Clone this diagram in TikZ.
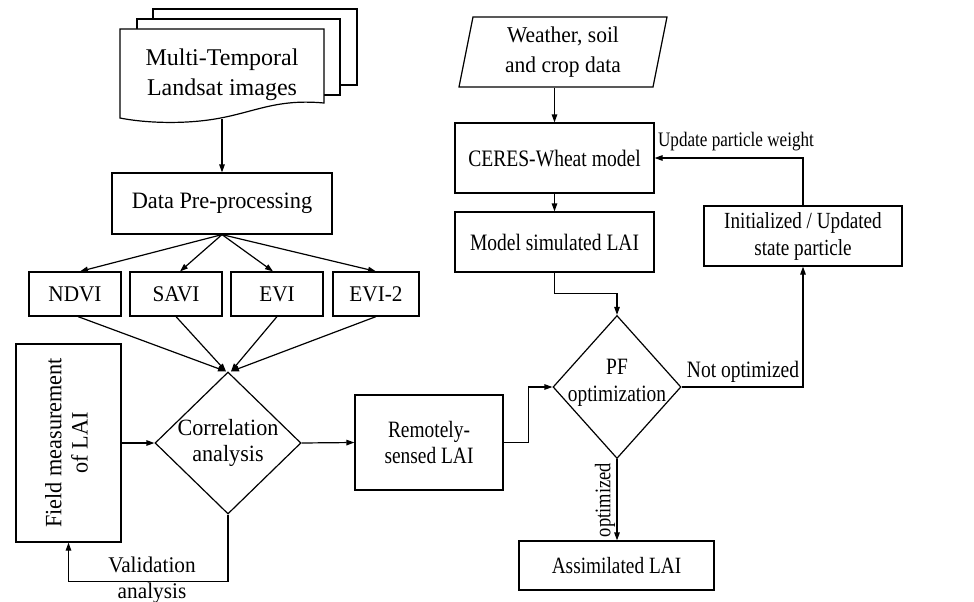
\documentclass[tikz,border=0pt]{standalone}
\usepackage{fontspec}
\setmainfont{Liberation Serif}
\newfontfamily\narrowf[FakeStretch=0.83]{Liberation Serif}
\newfontfamily\semif[FakeStretch=0.95]{Liberation Serif}
\usepackage{graphicx}
\usetikzlibrary{shapes.geometric,arrows.meta}
\newcommand{\fsn}[2]{\narrowf\fontsize{#1}{#2}\selectfont}
\newcommand{\fss}[2]{\semif\fontsize{#1}{#2}\selectfont}
\newcommand{\fsm}[2]{\fontsize{#1}{#2}\selectfont}
\begin{document}
\begin{tikzpicture}[x=1pt,y=-1pt,
  line width=1.2pt,
  arr/.style={-{Triangle[length=8pt,width=5.5pt]}},
  box/.style={draw, rectangle, inner sep=0pt, align=center},
  dia/.style={draw, diamond, inner sep=0pt},
  lab/.style={inner sep=0pt, align=center}]
\useasboundingbox (0,0) rectangle (974,602);
% document stack
\draw[fill=white] (153,9) rectangle (357,85);
\draw[fill=white] (137,19) rectangle (340,95);
\draw[fill=white] (120,29) -- (324,29) -- (324,103)
  .. controls (270,98) and (250,116) .. (200,121)
  .. controls (170,124) and (140,122) .. (120,118) -- cycle;
\node[lab, font=\fsm{24}{30}] (doc) at (222,75) {Multi-Temporal\\Landsat images};
\coordinate (docb) at (222,119);
% left column
\node[box, minimum width=220pt, minimum height=61pt, font=\fss{23.5}{26}] (pre) at (222,203.5) {Data Pre-processing};
\node[box, minimum width=92pt, minimum height=44pt, font=\fss{22.4}{26}] (ndvi) at (75,294) {NDVI};
\node[box, minimum width=92pt, minimum height=44pt, font=\fss{22.4}{26}] (savi) at (176,294) {SAVI};
\node[box, minimum width=92pt, minimum height=44pt, font=\fss{22.4}{26}] (evi) at (277,294) {EVI};
\node[box, minimum width=86pt, minimum height=44pt, font=\fss{22.4}{26}] (evib) at (376,294) {EVI-2};
\node[dia, minimum width=146pt, minimum height=142pt] (corr) at (228,443) {};
\node[lab, font=\fss{23.3}{26}] (corrt) at (corr.center) {Correlation\\analysis};
\node[box, minimum width=105pt, minimum height=198pt, font=\fss{23.4}{30}] (field) at (68.5,443)
  {\rotatebox{90}{\begin{tabular}{@{}c@{}}Field measurement\\[-4pt]of LAI\end{tabular}}};
\node[lab, font=\fss{22.4}{26}] (vlab) at (152,580) {Validation\\analysis};
\node[box, minimum width=148pt, minimum height=95pt, font=\fsn{23.4}{26}] (remote) at (429,442.5) {Remotely-\\sensed LAI};
% right part
\draw (473,17) -- (667,17) -- (653,87) -- (459,87) -- cycle;
\node[lab, minimum width=194pt, minimum height=70pt, font=\fss{22.6}{30}] (weather) at (563,52) {Weather, soil\\and crop data};
\node[box, minimum width=199pt, minimum height=70pt, font=\fsn{23.6}{26}] (ceres) at (554.5,158) {CERES-Wheat model};
\node[box, minimum width=199pt, minimum height=60pt, font=\fsn{23.5}{26}] (model) at (554.5,242) {Model simulated LAI};
\node[dia, minimum width=128pt, minimum height=143pt] (pf) at (617,387) {};
\node[lab, font=\fsn{23.4}{27}] (pft) at (617,383) {PF\\optimization};
\node[box, minimum width=195pt, minimum height=49pt, font=\fsn{23.3}{26}] (assim) at (616.5,565.5) {Assimilated LAI};
\node[box, minimum width=198pt, minimum height=60pt, font=\fsn{23.1}{27}] (init) at (803,236) {Initialized / Updated\\state particle};
\node[lab, font=\fsn{20.6}{22}] (uplab) at (736,142) {Update particle weight};
\node[lab, font=\fsn{23.5}{24}] (nolab) at (743,372) {Not optimized};
\node[lab, rotate=90, font=\fsn{22.3}{24}] (oplab) at (605,500) {optimized};
% connectors
\draw[arr] (docb) -- (pre.north);
\draw[arr] (pre.south) -- ([xshift=5pt]ndvi.north);
\draw[arr] (pre.south) -- ([xshift=4pt]savi.north);
\draw[arr] (pre.south) -- ([xshift=-4pt]evi.north);
\draw[arr] (pre.south) -- (evib.north);
\draw[arr] ([xshift=3pt]ndvi.south) -- ([xshift=-2pt]corr.north);
\draw[arr] (savi.south) -- ([xshift=-2pt]corr.north);
\draw[arr] (evi.south) -- ([xshift=3pt]corr.north);
\draw[arr] (evib.south) -- ([xshift=3pt]corr.north);
\draw[arr] (field.east) -- (corr.west);
\draw[arr] (corr.south) -- ++(0,67) -| (field.south);
\draw[arr] (corr.east) -- (remote.west);
\draw[arr] (remote.east) -- ++(25,0) |- (pf.west);
\draw[arr] (weather.south -| ceres.north) -- (ceres.north);
\draw[arr] (ceres.south) -- (model.south |- model.north);
\draw[arr] (model.south) -- ++(0,21) -| (pf.north);
\draw[arr] (pf.south) -- (pf.south |- assim.north);
\draw[arr] (pf.east) -| (init.south);
\draw[arr] (init.north) |- (ceres.east);
\end{tikzpicture}
\end{document}
